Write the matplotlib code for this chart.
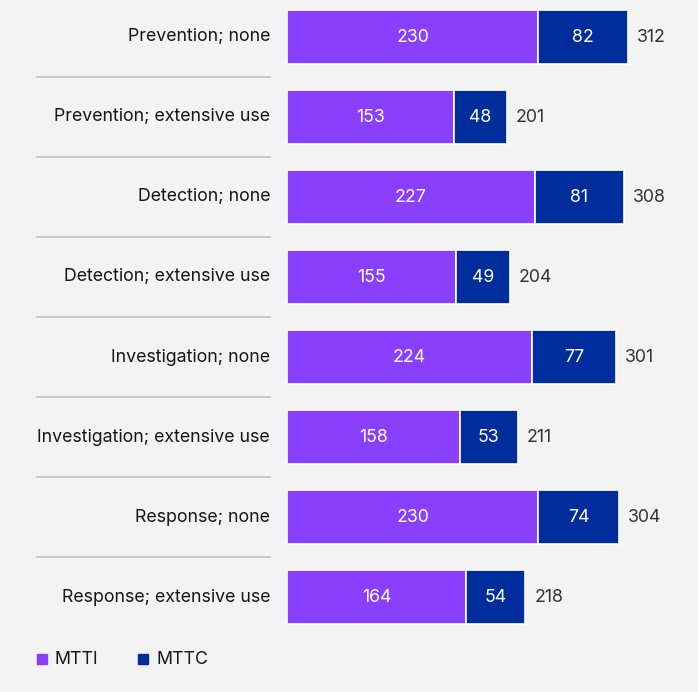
import matplotlib
matplotlib.use("Agg")
import matplotlib.pyplot as plt
from matplotlib.transforms import blended_transform_factory
from matplotlib.patches import Rectangle

categories = ["Prevention; none", "Prevention; extensive use",
              "Detection; none", "Detection; extensive use",
              "Investigation; none", "Investigation; extensive use",
              "Response; none", "Response; extensive use"]
mtti = [230, 153, 227, 155, 224, 158, 230, 164]
mttc = [82, 48, 81, 49, 77, 53, 74, 54]
totals = [312, 201, 308, 204, 301, 211, 304, 218]
series_names = ["MTTI", "MTTC"]
colors = ["#8a3ffc", "#002d9c"]

plt.rcParams['font.family'] = ['Inter', 'DejaVu Sans']
W, H = 698, 692
fig = plt.figure(figsize=(W/100, H/100), dpi=100)
fig.patch.set_facecolor("#f3f3f3")

ax_left, ax_right = 287, 698
ax = fig.add_axes([ax_left/W, (H-640)/H, (ax_right-ax_left)/W, 640/H])
ax.set_facecolor("none")
px_per_unit = 341/312
ax.set_xlim(0, (ax_right-ax_left)/px_per_unit)
ax.set_ylim(7.5375, -0.4625)
ax.axis("off")

y = list(range(len(categories)))
bh = 0.665
ax.barh(y, mtti, height=bh, color=colors[0], edgecolor="white", linewidth=1.2)
ax.barh(y, mttc, left=mtti, height=bh, color=colors[1], edgecolor="white", linewidth=1.2)

fs = 12.8
for i in y:
    ax.text(mtti[i]/2, i, str(mtti[i]), ha="center", va="center", color="white", fontsize=fs)
    ax.text(mtti[i]+mttc[i]/2, i, str(mttc[i]), ha="center", va="center", color="white", fontsize=fs)
    ax.text(totals[i]+9/px_per_unit, i, str(totals[i]), ha="left", va="center", color="#333333", fontsize=fs)

tr = blended_transform_factory(fig.transFigure, ax.transData)
for i in y:
    ax.text(270/W, i, categories[i], transform=tr, ha="right", va="center", color="#161616", fontsize=fs)
for i in range(len(categories)-1):
    ax.plot([37/W, 270/W], [i+0.5, i+0.5], transform=tr, color="#c6c6c9", lw=1.3, clip_on=False)

# legend
leg_y = H-659
for x0, name, c in [(37, series_names[0], colors[0]), (138, series_names[1], colors[1])]:
    fig.patches.append(Rectangle(((x0)/W, (leg_y-5)/H), 10/W, 10/H, transform=fig.transFigure,
                                 color=c, figure=fig))
    fig.text((x0+18)/W, leg_y/H, name, ha="left", va="center", fontsize=fs, color="#161616")

fig.savefig("out.png", dpi=100, facecolor=fig.get_facecolor())
